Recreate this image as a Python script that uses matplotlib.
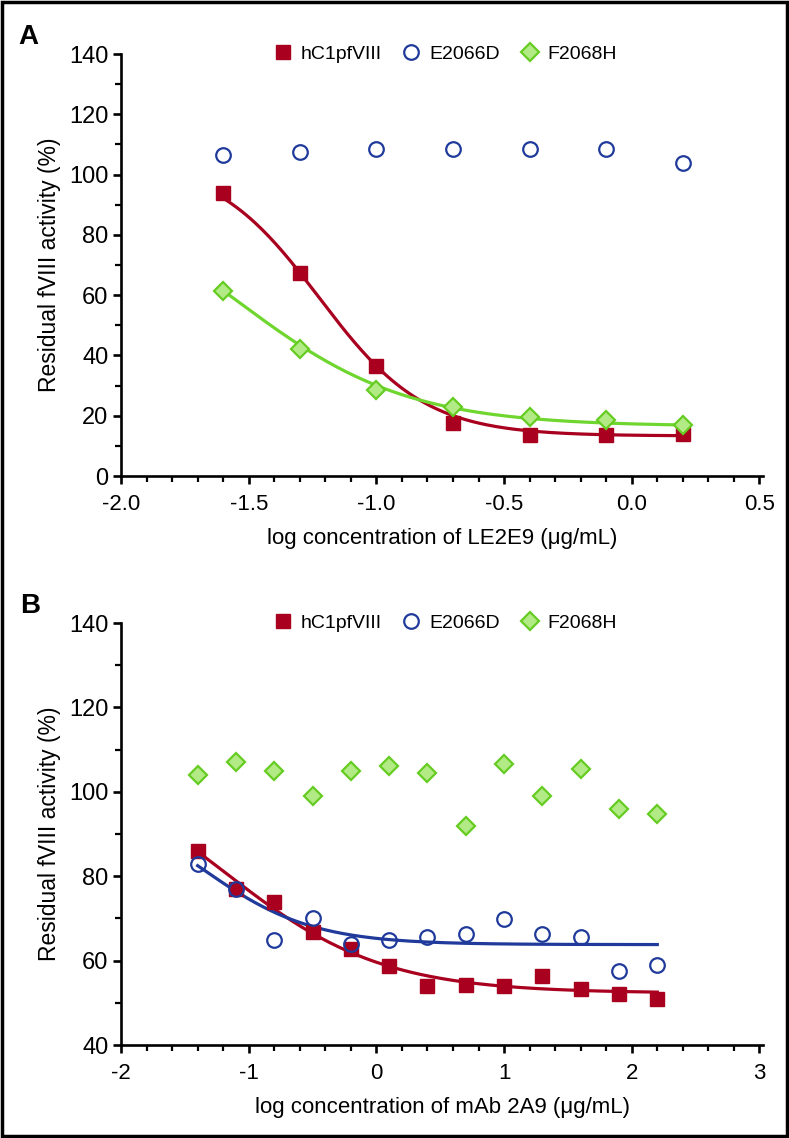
import matplotlib
matplotlib.use('Agg')
import matplotlib.pyplot as plt
from matplotlib.patches import Rectangle
from matplotlib.ticker import MultipleLocator, FormatStrFormatter
import numpy as np

plt.rcParams['font.family'] = ['Liberation Sans', 'DejaVu Sans']
plt.rcParams['axes.unicode_minus'] = False

RED = '#a8001e'
BLUE = '#1f3a9a'
GREEN_EDGE = '#66cc22'
GREEN_FACE = '#b2ea85'
GREEN_LINE = '#6fd630'

series_names = ['hC1pfVIII', 'E2066D', 'F2068H']

# panel A: LE2E9
log_conc_a = [-1.6, -1.3, -1.0, -0.7, -0.4, -0.1, 0.2]
hc1_a = [94, 67.5, 36.5, 17.5, 13.5, 13.5, 14]
e2066d_a = [106.5, 107.5, 108.5, 108.5, 108.5, 108.5, 104]
f2068h_a = [61.5, 42, 28.5, 23, 19.5, 18.5, 17]

# panel B: mAb 2A9
log_conc_b = [-1.4, -1.1, -0.8, -0.5, -0.2, 0.1, 0.4, 0.7, 1.0, 1.3, 1.6, 1.9, 2.2]
hc1_b = [86, 77, 73.8, 66.7, 62.8, 58.7, 53.9, 54.3, 54.1, 56.4, 53.2, 52.2, 51]
e2066d_b = [82.9, 77, 65, 70.2, 64, 65, 65.6, 66.3, 69.8, 66.3, 65.6, 57.6, 58.9]
f2068h_b = [104, 107.1, 105, 99, 105, 106.2, 104.4, 91.9, 106.6, 99.1, 105.4, 95.9, 94.7]

# 4-parameter logistic fits: (top, bottom, logEC50, hill)
fit_hc1_a = (105, 13.3, -1.224, 2.1)
fit_f2068h_a = (100, 16.5, -1.548, 1.3)
fit_hc1_b = (110, 52.3, -1.197, 0.7)
fit_e2066d_b = (100, 63.8, -1.371, 1.0)


def logistic(x, top, bottom, x0, hill):
    return bottom + (top - bottom) / (1 + 10 ** ((x - x0) * hill))


def draw_fit(ax, xs, params, color):
    xx = np.linspace(min(xs), max(xs), 200)
    ax.plot(xx, logistic(xx, *params), color=color, lw=2.3, zorder=2)


def style_axes(ax, xlim, ylim, xmajor, xminor, xfmt, xlabel):
    ax.set_xlim(*xlim)
    ax.set_ylim(*ylim)
    for s in ['top', 'right']:
        ax.spines[s].set_visible(False)
    for s in ['left', 'bottom']:
        ax.spines[s].set_linewidth(1.9)
    ax.xaxis.set_major_locator(MultipleLocator(xmajor))
    ax.xaxis.set_minor_locator(MultipleLocator(xminor))
    ax.xaxis.set_major_formatter(FormatStrFormatter(xfmt))
    ax.yaxis.set_major_locator(MultipleLocator(20))
    ax.yaxis.set_minor_locator(MultipleLocator(10))
    ax.tick_params(which='major', length=6, width=1.9, direction='out')
    ax.tick_params(which='minor', length=4, width=1.6, direction='out')
    ax.tick_params(axis='y', labelsize=17, pad=3)
    ax.tick_params(axis='x', labelsize=16, pad=7)
    ax.set_xlabel(xlabel, fontsize=16, labelpad=9)
    ax.set_ylabel('Residual fVIII activity (%)', fontsize=16.5, labelpad=6)
    ax.legend(ncol=3, loc='center', bbox_to_anchor=(0.505, 1.0), frameon=False,
              fontsize=14, handlelength=0.9, handletextpad=0.45,
              columnspacing=1.1, borderaxespad=0)


def scatter(ax, x, y, kind):
    if kind == 0:
        ax.plot(x, y, 's', ms=9.5, mfc=RED, mec=RED, ls='none',
                label=series_names[0], zorder=3)
    elif kind == 1:
        ax.plot(x, y, 'o', ms=10.5, mfc='none', mec=BLUE, mew=1.6, ls='none',
                label=series_names[1], zorder=3)
    else:
        ax.plot(x, y, 'D', ms=9, mfc=GREEN_FACE, mec=GREEN_EDGE, mew=1.6,
                ls='none', label=series_names[2], zorder=3)


fig = plt.figure(figsize=(7.89, 11.38), dpi=100)

ax_a = fig.add_axes([0.1534, 0.5817, 0.814, 0.3708])
draw_fit(ax_a, log_conc_a, fit_hc1_a, RED)
draw_fit(ax_a, log_conc_a, fit_f2068h_a, GREEN_LINE)
scatter(ax_a, log_conc_a, hc1_a, 0)
scatter(ax_a, log_conc_a, e2066d_a, 1)
scatter(ax_a, log_conc_a, f2068h_a, 2)
style_axes(ax_a, (-2.0, 0.515), (0, 140), 0.5, 0.1, '%.1f',
           'log concentration of LE2E9 (\u03bcg/mL)')

ax_b = fig.add_axes([0.1534, 0.0817, 0.814, 0.3708])
draw_fit(ax_b, log_conc_b, fit_hc1_b, RED)
draw_fit(ax_b, log_conc_b, fit_e2066d_b, BLUE)
scatter(ax_b, log_conc_b, hc1_b, 0)
scatter(ax_b, log_conc_b, e2066d_b, 1)
scatter(ax_b, log_conc_b, f2068h_b, 2)
style_axes(ax_b, (-2, 3.03), (40, 140), 1, 0.2, '%d',
           'log concentration of mAb 2A9 (\u03bcg/mL)')

fig.text(28 / 789, 1 - 37 / 1138, 'A', fontsize=20, fontweight='bold',
         ha='center', va='center')
fig.text(30 / 789, 1 - 606 / 1138, 'B', fontsize=20, fontweight='bold',
         ha='center', va='center')

fig.patches.append(Rectangle((0.002, 0.002), 0.996, 0.996, transform=fig.transFigure,
                             fill=False, edgecolor='black', linewidth=2.5))

fig.savefig('out.png', dpi=100)
